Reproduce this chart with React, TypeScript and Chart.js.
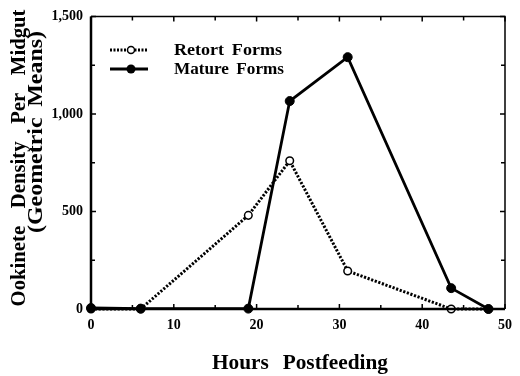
import React, { useEffect, useRef } from "react";
import { Chart, registerables } from "chart.js";

Chart.register(...registerables);

const retortHours = [0, 6, 19, 24, 31, 43.5, 48];
const retortDensity = [0, 0, 480, 760, 195, 0, 0];
const matureHours = [0, 6, 19, 24, 31, 43.5, 48];
const matureDensity = [5, 2, 2, 1066, 1291, 107, 0];

const xTickValues = [0, 10, 20, 30, 40, 50];
const yTickValues = [0, 500, 1000, 1500];
const retortLabel = "Retort Forms";
const matureLabel = "Mature Forms";
const xTitle = "Hours Postfeeding";
const yTitleLine1 = "Ookinete Density Per Midgut";
const yTitleLine2 = "(Geometric Means)";

const FONT = "'Liberation Serif', 'Times New Roman', serif";

function drawFit(
  ctx: CanvasRenderingContext2D,
  text: string,
  x: number,
  y: number,
  rot: number,
  width: number,
  font: string,
  wordSpacing: number,
  align: CanvasTextAlign,
  baseline: CanvasTextBaseline
) {
  ctx.save();
  ctx.font = font;
  (ctx as any).wordSpacing = `${wordSpacing}px`;
  const w = ctx.measureText(text).width;
  const sx = w > 0 ? width / w : 1;
  ctx.translate(x, y);
  ctx.rotate(rot);
  ctx.scale(sx, 1);
  ctx.textAlign = align;
  ctx.textBaseline = baseline;
  ctx.fillText(text, 0, 0);
  ctx.restore();
}

const decorPlugin = {
  id: "decor",
  afterDraw(chart: any) {
    const ctx = chart.ctx as CanvasRenderingContext2D;
    const xs = chart.scales.x;
    const ys = chart.scales.y;
    const { left, right, top, bottom } = chart.chartArea;
    ctx.save();
    ctx.strokeStyle = "#000";
    ctx.fillStyle = "#000";
    // frame
    ctx.lineWidth = 1.5;
    ctx.beginPath();
    ctx.moveTo(left, top);
    ctx.lineTo(right, top);
    ctx.lineTo(right, bottom);
    ctx.stroke();
    ctx.lineWidth = 2.5;
    ctx.beginPath();
    ctx.moveTo(left, top);
    ctx.lineTo(left, bottom);
    ctx.lineTo(right, bottom);
    ctx.stroke();
    // ticks
    ctx.lineWidth = 1.5;
    for (let v = 0; v <= 50; v += 5) {
      const px = xs.getPixelForValue(v);
      const len = v % 10 === 0 ? 5 : 4;
      ctx.beginPath();
      ctx.moveTo(px, bottom);
      ctx.lineTo(px, bottom - len);
      ctx.moveTo(px, top);
      ctx.lineTo(px, top + len);
      ctx.stroke();
    }
    for (let v = 0; v <= 1500; v += 250) {
      const py = ys.getPixelForValue(v);
      const len = v % 500 === 0 ? 5 : 4;
      ctx.beginPath();
      ctx.moveTo(left, py);
      ctx.lineTo(left + len, py);
      ctx.moveTo(right, py);
      ctx.lineTo(right - len, py);
      ctx.stroke();
    }
    // legend
    const lx0 = 110, lx1 = 148, mx = 131, tx = 174;
    const ly1 = 50, ly2 = 69;
    ctx.lineWidth = 2.8;
    ctx.setLineDash([2, 1.5]);
    ctx.beginPath();
    ctx.moveTo(lx0, ly1);
    ctx.lineTo(lx1, ly1);
    ctx.stroke();
    ctx.setLineDash([]);
    ctx.lineWidth = 1.5;
    ctx.fillStyle = "#fff";
    ctx.beginPath();
    ctx.arc(mx, ly1, 3.5, 0, Math.PI * 2);
    ctx.fill();
    ctx.stroke();
    ctx.fillStyle = "#000";
    ctx.lineWidth = 2.8;
    ctx.beginPath();
    ctx.moveTo(lx0, ly2);
    ctx.lineTo(lx1, ly2);
    ctx.stroke();
    ctx.beginPath();
    ctx.arc(mx, ly2, 4.5, 0, Math.PI * 2);
    ctx.fill();
    const legFont = `bold 17px ${FONT}`;
    drawFit(ctx, retortLabel, tx, ly1 + 1, 0, 108, legFont, 3, "left", "middle");
    drawFit(ctx, matureLabel, tx, ly2 + 1, 0, 110, legFont, 3, "left", "middle");
    // x title
    drawFit(ctx, xTitle, 300, 369, 0, 176, `bold 20px ${FONT}`, 8, "center", "alphabetic");
    // y titles
    drawFit(ctx, yTitleLine1, 25, 158, -Math.PI / 2, 297, `bold 20px ${FONT}`, 12, "center", "alphabetic");
    drawFit(ctx, yTitleLine2, 42, 132, -Math.PI / 2, 202, `bold 20px ${FONT}`, 4, "center", "alphabetic");
    ctx.restore();
  },
};

export default function App() {
  const ref = useRef<HTMLCanvasElement>(null);
  useEffect(() => {
    if (!ref.current) return;
    const chart = new Chart(ref.current, {
      type: "line",
      data: {
        datasets: [
          {
            label: matureLabel,
            data: matureHours.map((h, i) => ({ x: h, y: matureDensity[i] })),
            borderColor: "#000",
            backgroundColor: "#000",
            borderWidth: 2.8,
            pointRadius: 4.5,
            pointBackgroundColor: "#000",
            pointBorderColor: "#000",
            pointBorderWidth: 1,
            order: 0,
            tension: 0,
          },
          {
            label: retortLabel,
            data: retortHours.map((h, i) => ({ x: h, y: retortDensity[i] })),
            borderColor: "#000",
            backgroundColor: "#fff",
            borderWidth: 3,
            borderDash: [2.2, 1.6],
            pointRadius: 3.8,
            pointBackgroundColor: "#fff",
            pointBorderColor: "#000",
            pointBorderWidth: 1.5,
            order: 1,
            tension: 0,
          },
        ],
      },
      options: {
        animation: false,
        responsive: false,
        devicePixelRatio: 1,
        clip: false as any,
        layout: { padding: { top: 15, right: 5, left: 0, bottom: 0 } },
        plugins: { legend: { display: false }, tooltip: { enabled: false } },
        scales: {
          x: {
            type: "linear",
            min: 0,
            max: 50,
            afterFit: (s: any) => {
              s.height = 67;
            },
            afterBuildTicks: (s: any) => {
              s.ticks = xTickValues.map((v) => ({ value: v }));
            },
            ticks: {
              color: "#000",
              font: { family: FONT, size: 14, weight: "bold" },
              padding: 8,
              maxRotation: 0,
              callback: (v: any) => String(v),
            },
            grid: { display: false, drawTicks: false },
            border: { display: false },
          },
          y: {
            type: "linear",
            min: 0,
            max: 1500,
            afterFit: (s: any) => {
              s.width = 91;
            },
            afterBuildTicks: (s: any) => {
              s.ticks = yTickValues.map((v) => ({ value: v }));
            },
            ticks: {
              color: "#000",
              font: { family: FONT, size: 14, weight: "bold" },
              padding: 8,
              callback: (v: any) => Number(v).toLocaleString("en-US"),
            },
            grid: { display: false, drawTicks: false },
            border: { display: false },
          },
        },
      },
      plugins: [decorPlugin],
    });
    return () => chart.destroy();
  }, []);
  return (
    <div style={{ position: "fixed", left: 0, top: 0, width: 520, height: 376, background: "#fff" }}>
      <canvas ref={ref} width={520} height={376} />
    </div>
  );
}
